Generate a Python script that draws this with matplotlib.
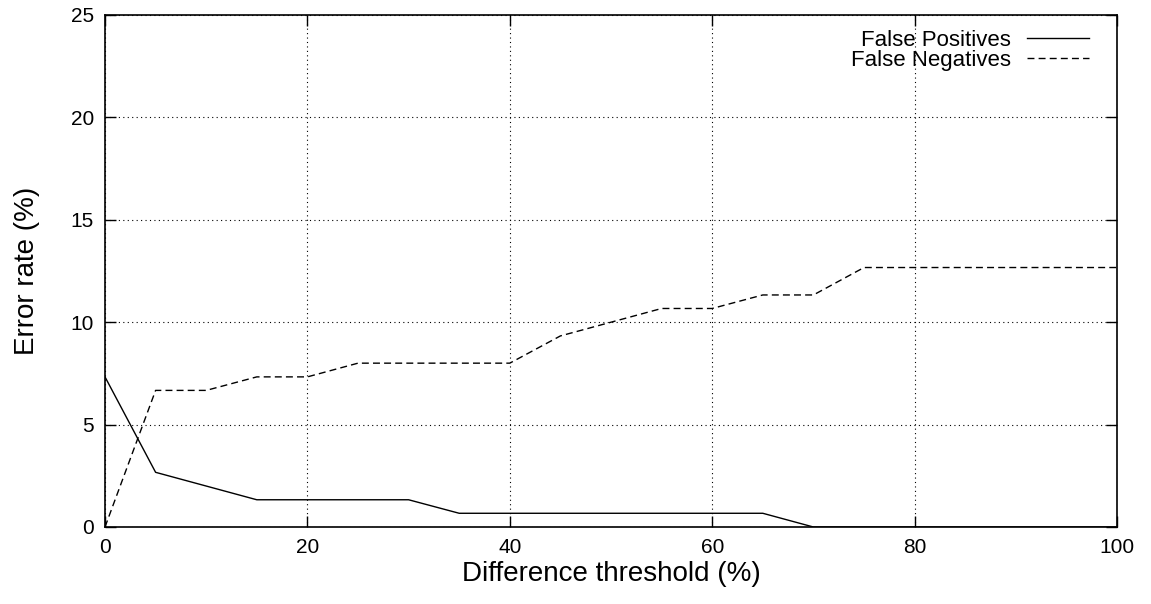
import matplotlib
matplotlib.use("Agg")
import matplotlib.pyplot as plt

threshold = [0, 5, 10, 15, 20, 25, 30, 35, 40, 45, 50, 55, 60, 65, 70, 75, 80, 85, 90, 95, 100]
false_pos = [7.33, 2.67, 2.0, 1.33, 1.33, 1.33, 1.33, 0.67, 0.67, 0.67, 0.67, 0.67, 0.67, 0.67,
             0, 0, 0, 0, 0, 0, 0]
false_neg = [0, 6.67, 6.67, 7.33, 7.33, 8.0, 8.0, 8.0, 8.0, 9.33, 10.0, 10.67, 10.67, 11.33,
             11.33, 12.67, 12.67, 12.67, 12.67, 12.67, 12.67]

plt.rcParams['font.family'] = ['Liberation Sans', 'DejaVu Sans']

fig = plt.figure(figsize=(11.51, 6.04), dpi=100)
ax = fig.add_axes([105/1151, 77/604, 1012/1151, 512/604])

ax.plot(threshold, false_pos, color='black', lw=1, label='False Positives')
ax.plot(threshold, false_neg, color='black', lw=1, linestyle=(0, (5, 3)), label='False Negatives')

ax.set_xlim(0, 100)
ax.set_ylim(0, 25)
ax.set_xticks([0, 20, 40, 60, 80, 100])
ax.set_yticks([0, 5, 10, 15, 20, 25])
ax.grid(True, color='black', linestyle=(0, (1, 3)), lw=0.8)
ax.tick_params(direction='in', top=True, right=True, length=8, width=1, labelsize=15, pad=8)
for s in ax.spines.values():
    s.set_linewidth(1.2)

ax.set_xlabel('Difference threshold (%)', fontsize=20, labelpad=3)
ax.set_ylabel('Error rate (%)', fontsize=20, labelpad=22)

ax.legend(loc='upper right', bbox_to_anchor=(984/1012, 1 - 15/512), frameon=False,
          markerfirst=False, fontsize=16, handlelength=2.8, borderaxespad=0, borderpad=0,
          labelspacing=-0.05, handletextpad=0.7)

fig.savefig('out.png', dpi=100)
